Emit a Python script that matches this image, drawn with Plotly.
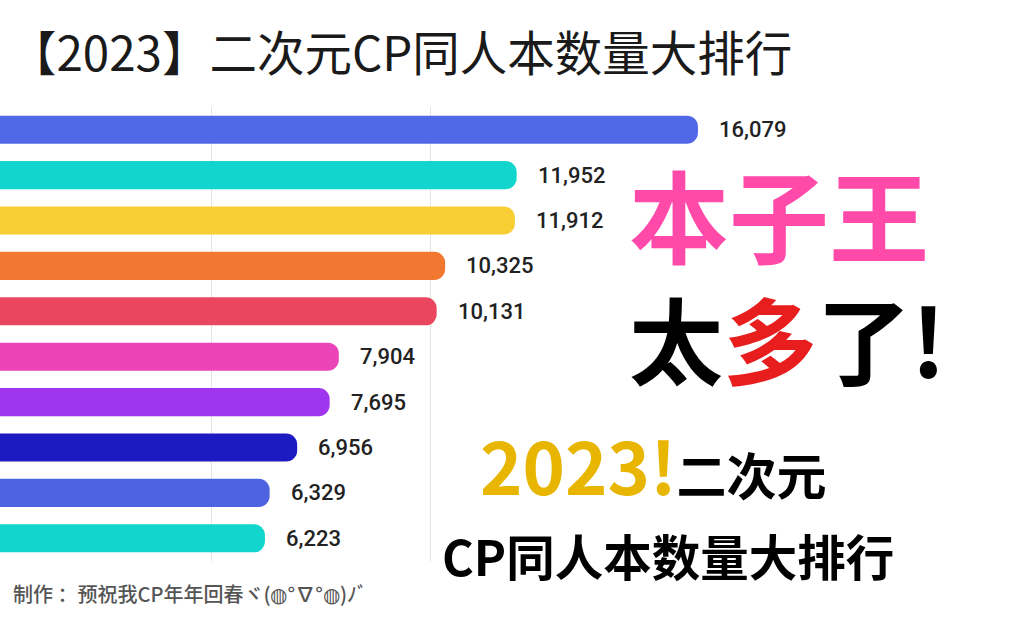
import plotly.graph_objects as go

ranks = ["No.1", "No.2", "No.3", "No.4", "No.5", "No.6", "No.7", "No.8", "No.9", "No.10"]
counts = [16079, 11952, 11912, 10325, 10131, 7904, 7695, 6956, 6329, 6223]
bar_colors = ["#5168E6", "#12D6CE", "#F7CF33", "#F07830", "#EB4660",
              "#EB44B8", "#A035F0", "#1C1BC2", "#4E63E0", "#12D6CE"]
grid_ticks = [5000, 10000]

title_text = "【2023】二次元CP同人本数量大排行"
footer_text = "制作 ：预祝我CP年年回春ヾ(◍°∇°◍)ﾉﾞ"

W, H = 1009, 631
T, B = 107, 70
PH = H - T - B


def py(pix):
    return (H - B - pix) / PH


fig = go.Figure()
fig.add_trace(go.Bar(
    x=counts, y=ranks, orientation="h",
    marker=dict(color=bar_colors, cornerradius=11, line=dict(width=0)),
    width=0.62, hoverinfo="skip",
))

for r, v in zip(ranks, counts):
    fig.add_annotation(x=v, y=r, xref="x", yref="y", text=f"{v:,}",
                       showarrow=False, xanchor="left", yanchor="middle", xshift=19,
                       font=dict(family="Roboto", size=22, color="#222222", weight=500))

CJK = "Noto Sans CJK SC"

# title
fig.add_annotation(x=7 / W, y=py(50), xref="paper", yref="paper", text=title_text,
                   showarrow=False, xanchor="left", yanchor="middle",
                   font=dict(family=CJK, size=47.5, color="#1a1a1a"))
# footer
fig.add_annotation(x=11 / W, y=py(593), xref="paper", yref="paper", text=footer_text,
                   showarrow=False, xanchor="left", yanchor="middle",
                   font=dict(family=CJK, size=20, color="#555555", weight=500))

# overlay slogans (two lines in one block)
fig.add_annotation(x=627 / W, y=py(272), xref="paper", yref="paper",
                   text="<span style='color:#FF4AAA;font-size:100px'>本子王</span><br>"
                        "太<span style='color:#E81E1E'>多</span>了!",
                   showarrow=False, xanchor="left", yanchor="middle", align="left",
                   font=dict(family=CJK, size=94, color="#000000", weight="bold"))
fig.add_annotation(x=653 / W, y=py(463), xref="paper", yref="paper",
                   text="<span style='color:#E8B500;font-size:72px'>2023!</span>二次元",
                   showarrow=False, xanchor="center", yanchor="middle",
                   font=dict(family=CJK, size=50, color="#000000", weight="bold"))
fig.add_annotation(x=668 / W, y=py(555), xref="paper", yref="paper",
                   text="CP同人本数量大排行",
                   showarrow=False, xanchor="center", yanchor="middle",
                   font=dict(family=CJK, size=48.5, color="#000000", weight="bold"))

fig.update_layout(
    width=W, height=H,
    margin=dict(l=0, r=0, t=T, b=B, pad=0),
    paper_bgcolor="white", plot_bgcolor="white",
    showlegend=False,
    xaxis=dict(range=[191, 23160], tickvals=grid_ticks, showticklabels=False,
               showgrid=True, gridcolor="#e4e4e4", gridwidth=1, zeroline=False,
               showline=False, fixedrange=True),
    yaxis=dict(categoryorder="array", categoryarray=ranks, autorange="reversed",
               showticklabels=False, showgrid=False, zeroline=False, showline=False,
               fixedrange=True),
)

fig.write_html("out.html")
